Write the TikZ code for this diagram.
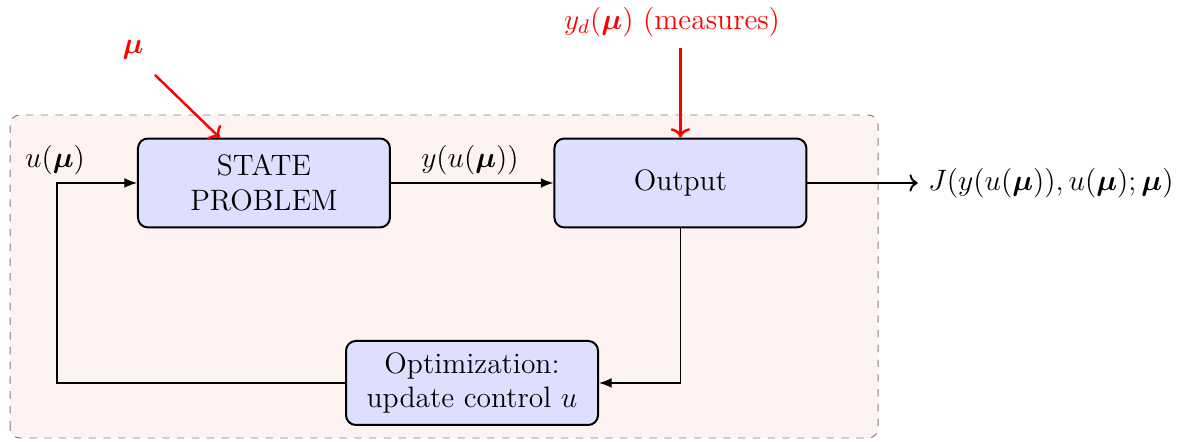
\documentclass[tikz,border=0pt]{standalone}
\usepackage{amsmath, amssymb, bm}
\usepackage{tikz}
\usetikzlibrary{positioning,arrows.meta,fit}
\tikzset{
  flowarrow/.style={-{Latex[length=1.8mm, width=1.4mm]}, semithick},
  redarrow/.style={->, line width=1pt, red},
  blockbox/.style={draw, rounded corners, thick, fill=blue!13, minimum width=3.6cm, minimum height=1.27cm, align=center},
  loopbox/.style={draw=gray, dashed, rounded corners, fill=red!5},
  siglabel/.style={font=\large, inner sep=1.5pt}
}

\begin{document}
\begin{tikzpicture}[>=To, every node/.style={font=\large}]
  \useasboundingbox (0,0) rectangle (16.914,6.3);
  \draw[loopbox] (0.143,0.043) rectangle (12.543,4.657);
  \node[blockbox] (state) at (3.771,3.686) {STATE\\PROBLEM};
  \node[blockbox] (out) at (9.72,3.686) {Output};
  \node[blockbox, minimum height=1.2cm] (opt) at (6.743,0.829) {Optimization:\\update control $u$};
  \coordinate (cin) at (0.814,3.686);
  \coordinate (cout) at (13.11,3.686);
  \coordinate (mustart) at (2.214,5.229);
  \coordinate (mutip) at (3.143,4.329);
  \coordinate (ydstart) at (9.72,5.614);
  \node[siglabel] (ulab) at (0.786,4.014) {$u(\bm{\mu})$};
  \node[siglabel] (ylab) at (6.714,4.014) {$y(u(\bm{\mu}))$};
  \node[siglabel, anchor=west] (jlab) at (13.2,3.686) {$J(y(u(\bm{\mu})),u(\bm{\mu});\bm{\mu})$};
  \node[siglabel, red] (mulab) at (1.9,5.586) {$\bm{\mu}$};
  \node[siglabel, red] (ydlab) at (9.6,5.986) {$y_d(\bm{\mu})$ (measures)};
  \draw[flowarrow] (opt.west) -| (cin) -- (state.west);
  \draw[flowarrow] (state) -- (out);
  \draw[flowarrow] (out.south) |- (opt.east);
  \draw[->, thick] (out) -- (cout);
  \draw[redarrow] (mustart) -- (mutip);
  \draw[redarrow] (ydstart) -- (out.north);
\end{tikzpicture}
\end{document}
